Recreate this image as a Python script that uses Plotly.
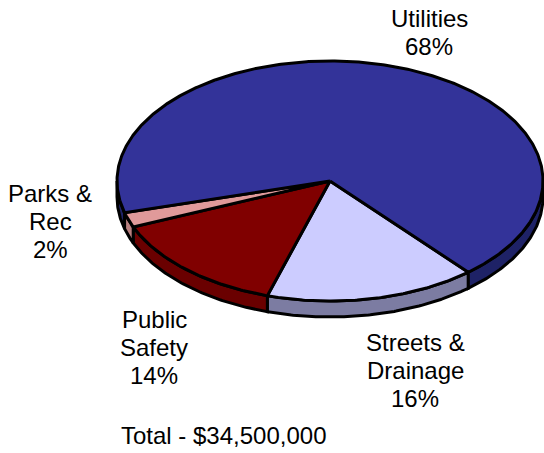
import numpy as np
import plotly.graph_objects as go

categories = ["Streets & Drainage", "Public Safety", "Parks & Rec", "Utilities"]
values = [16, 14, 2, 68]
top_colors = ["#ccccff", "#800000", "#e09a9a", "#333399"]
side_colors = ["#7c7ca2", "#6a0000", "#b88080", "#1e2266"]
label_lines = [["Streets &", "Drainage", "16%"], ["Public", "Safety", "14%"], ["Parks &", "Rec", "2%"], ["Utilities", "68%"]]
label_x = [415, 154, 50, 429]
label_top = [342, 319, 193, 18]
total_text = "Total - $34,500,000"

CX, CY, RX, RY, DEPTH = 330, 181, 213, 120, 16
START = 49.5
LINE_GAP = 28


def arc(a, b, dy=0):
    t = np.radians(np.linspace(a, b, max(int(abs(b - a)) * 2, 2)))
    return CX + RX * np.cos(t), CY + RY * np.sin(t) + dy


fig = go.Figure()
shares = np.array(values) / sum(values) * 360
edges = START + np.concatenate([[0], np.cumsum(shares)])
LINE = dict(color="#000000", width=3)

for i in range(len(values)):
    for lo, hi in [(0, 180), (360, 540)]:
        a, b = max(edges[i], lo), min(edges[i + 1], hi)
        if a >= b:
            continue
        x1, y1 = arc(a, b)
        x2, y2 = arc(b, a, DEPTH)
        fig.add_trace(go.Scatter(x=np.r_[x1, x2, x1[0]], y=np.r_[y1, y2, y1[0]], mode="lines",
                                 fill="toself", fillcolor=side_colors[i], line=LINE,
                                 hoverinfo="skip", showlegend=False))

for i, name in enumerate(categories):
    x, y = arc(edges[i], edges[i + 1])
    fig.add_trace(go.Scatter(x=np.r_[CX, x, CX], y=np.r_[CY, y, CY], mode="lines", name=name,
                             fill="toself", fillcolor=top_colors[i], line=LINE,
                             hoverinfo="skip", showlegend=False))

FONT = dict(family="Liberation Sans, Arial, sans-serif", size=24, color="#000000")
for lines, x, y0 in zip(label_lines, label_x, label_top):
    for k, text in enumerate(lines):
        fig.add_annotation(x=x, y=y0 + k * LINE_GAP, text=text, showarrow=False, font=FONT,
                           xanchor="center", yanchor="middle")
fig.add_annotation(x=224, y=435, text=total_text, showarrow=False, font=FONT,
                   xanchor="center", yanchor="middle")

fig.update_layout(width=544, height=453, margin=dict(l=0, r=0, t=0, b=0),
                  paper_bgcolor="white", plot_bgcolor="white",
                  xaxis=dict(range=[0, 544], visible=False, fixedrange=True),
                  yaxis=dict(range=[453, 0], visible=False, fixedrange=True))
fig.write_html("out.html", config={"displayModeBar": False},
               post_script="document.body.style.margin='0';")
